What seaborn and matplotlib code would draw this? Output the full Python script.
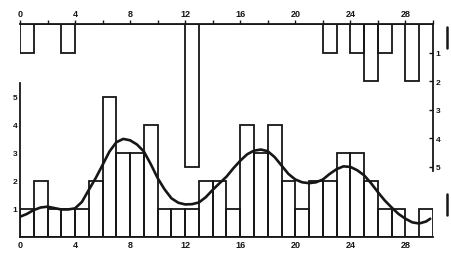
import numpy as np
import pandas as pd
import matplotlib
matplotlib.use("Agg")
import matplotlib.pyplot as plt
from matplotlib.ticker import MultipleLocator
from matplotlib.lines import Line2D
import seaborn as sns

# lower histogram: counts per unit bin starting at these positions
bin_start = list(range(0, 30))
lower_counts = [1, 2, 1, 1, 1, 2, 5, 3, 3, 4,
                1, 1, 1, 2, 2, 1, 4, 3, 4, 2,
                1, 2, 2, 3, 3, 2, 1, 1, 0, 1]

# upper (hanging) histogram
upper_counts = [1, 0, 0, 1, 0, 0, 0, 0, 0, 0,
                0, 0, 5, 0, 0, 0, 0, 0, 0, 0,
                0, 0, 1, 0, 1, 2, 1, 0, 2, 0]

# smoothed curve
curve_x = [0, 0.5, 1, 1.5, 2, 2.5, 3, 3.5, 4, 4.5, 5, 5.5, 6, 6.5, 7, 7.5,
           8, 8.5, 9, 9.5, 10, 10.5, 11, 11.5, 12, 12.5, 13, 13.5, 14, 14.5,
           15, 15.5, 16, 16.5, 17, 17.5, 18, 18.5, 19, 19.5, 20, 20.5, 21,
           21.5, 22, 22.5, 23, 23.5, 24, 24.5, 25, 25.5, 26, 26.5, 27, 27.5,
           28, 28.5, 29, 29.5, 29.8]
curve_y = [0.72, 0.82, 0.96, 1.05, 1.08, 1.03, 0.98, 0.98, 1.02, 1.25, 1.68,
           2.1, 2.57, 3.05, 3.38, 3.5, 3.45, 3.3, 3.05, 2.6, 2.1, 1.7, 1.38,
           1.22, 1.16, 1.17, 1.23, 1.42, 1.68, 1.92, 2.15, 2.45, 2.72, 2.95,
           3.08, 3.12, 3.06, 2.85, 2.55, 2.25, 2.05, 1.95, 1.92, 1.95, 2.05,
           2.25, 2.42, 2.52, 2.5, 2.38, 2.2, 1.92, 1.6, 1.3, 1.05, 0.82, 0.65,
           0.52, 0.48, 0.55, 0.65]

x_ticks = [0, 4, 8, 12, 16, 20, 24, 28]
y_ticks = [1, 2, 3, 4, 5]

ink = "#161616"

sns.set_style("white")
plt.rcParams["font.family"] = ["Liberation Sans", "DejaVu Sans"]
plt.rcParams["font.weight"] = "bold"

fig = plt.figure(figsize=(4.51, 2.55), dpi=100)
ax_low = fig.add_axes([0.0443, 0.067, 0.9157, 0.604])
ax_up = fig.add_axes([0.0443, 0.325, 0.9157, 0.577])
ax_up.patch.set_alpha(0)

df_low = pd.DataFrame({"start": bin_start, "count": lower_counts})
df_up = pd.DataFrame({"start": bin_start, "count": upper_counts})

sns.histplot(data=df_low, x="start", weights="count", binwidth=1,
             binrange=(0, 30), fill=False, element="bars",
             color=ink, linewidth=1.3, ax=ax_low)
sns.lineplot(x=curve_x, y=curve_y, color=ink, linewidth=1.9, ax=ax_low)

sns.histplot(data=df_up, x="start", weights="count", binwidth=1,
             binrange=(0, 30), fill=False, element="bars",
             color=ink, linewidth=1.3, ax=ax_up)

# lower panel axes
ax_low.set_xlim(0, 30)
ax_low.set_ylim(0, 5.5)
for s in ["top", "right"]:
    ax_low.spines[s].set_visible(False)
for s in ["left", "bottom"]:
    ax_low.spines[s].set_color(ink)
    ax_low.spines[s].set_linewidth(1.3)
ax_low.set_xticks(x_ticks)
ax_low.set_yticks(y_ticks)
ax_low.tick_params(axis="x", length=0, pad=2, labelsize=6.5, colors=ink)
ax_low.tick_params(axis="y", direction="in", length=3, width=1, pad=2,
                   labelsize=6, colors=ink)
ax_low.set_xlabel("")
ax_low.set_ylabel("")

# upper panel axes (values hang downwards)
ax_up.set_xlim(0, 30)
ax_up.set_ylim(5.15, 0)
for s in ["left", "bottom"]:
    ax_up.spines[s].set_visible(False)
for s in ["top", "right"]:
    ax_up.spines[s].set_color(ink)
    ax_up.spines[s].set_linewidth(1.3)
ax_up.xaxis.tick_top()
ax_up.yaxis.tick_right()
ax_up.xaxis.set_major_locator(MultipleLocator(4))
ax_up.xaxis.set_minor_locator(MultipleLocator(2))
ax_up.set_xticks(x_ticks)
ax_up.set_yticks(y_ticks)
ax_up.tick_params(axis="x", which="both", direction="out", length=3,
                  width=1, pad=1, labelsize=6.5, colors=ink)
ax_up.tick_params(axis="y", direction="in", length=3, width=1, pad=2,
                  labelsize=6, colors=ink)
ax_up.set_xlabel("")
ax_up.set_ylabel("")

# margin marks at the right edge
fig.add_artist(Line2D([0.991, 0.991], [0.808, 0.89], color=ink, lw=1.8))
fig.add_artist(Line2D([0.991, 0.991], [0.153, 0.235], color=ink, lw=1.8))

fig.savefig("out.png", dpi=100)
